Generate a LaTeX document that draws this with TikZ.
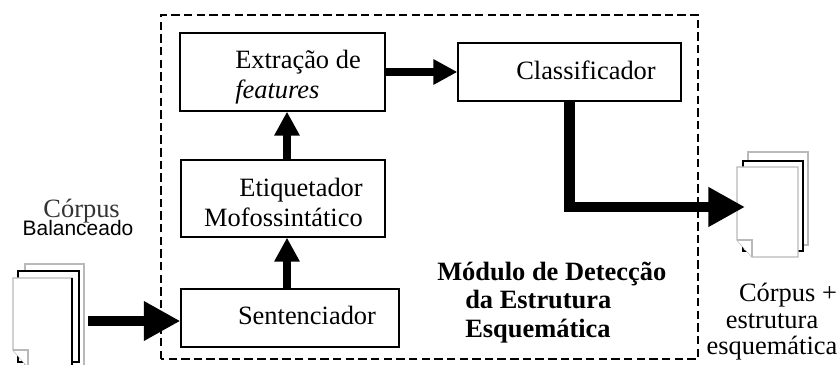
\documentclass[tikz,border=0pt]{standalone}
\usepackage{fontspec}
\setmainfont{Liberation Serif}
\newfontfamily\arialfont{Liberation Sans}
\usetikzlibrary{arrows.meta}

\begin{document}
\begin{tikzpicture} [>=latex,
	every node/.style={font=\fontsize{18.8}{21.3}\selectfont, inner sep=0pt},
	caixa/.style={draw, line width=0.9pt},
	setafina/.style={line width=5pt, -{Triangle[length=17pt, width=17pt]}},
	setagrossa/.style={line width=7.8pt, -{Triangle[length=26pt, width=26.5pt]}},
	folha/.style={draw=gray!55, fill=white, line width=0.9pt},
	folhapreta/.style={draw=black, fill=white, line width=0.9pt}]
	\useasboundingbox (0,0) rectangle (21,9.125);
	\clip (0,0) rectangle (21,9.125);
	%%%	Moldura do modulo
	\draw[line width=0.9pt, dash pattern=on 6pt off 3pt] (4.025,0.15) rectangle (17.45,8.75);
	%%%	Caixas
	\node[caixa, minimum width=5.125cm, minimum height=1.95cm] (extr) at (7.0625,7.325) {};
	\node[caixa, minimum width=5.575cm, minimum height=1.45cm] (clas) at (14.2375,7.325) {};
	\node[caixa, minimum width=5.1cm, minimum height=1.925cm] (etiq) at (7.075,4.1625) {};
	\node[caixa, minimum width=5.45cm, minimum height=1.45cm] (sent) at (7.25,1.175) {};
	\node[anchor=west, align=left] (extrT) at (5.875,7.2) {Extração de\\\textit{features}};
	\node[anchor=east, align=right] (etiqT) at (9.075,4.075) {Etiquetador\\Mofossintático};
	\node (sentT) at (7.675,1.25) {Sentenciador};
	\node (clasT) at (14.65,7.375) {Classificador};
	\node[anchor=west, align=left, font=\fontsize{18.8}{20.2}\selectfont\bfseries] (moduloT) at (10.925,1.56)
		{Módulo de Detecção\\\hspace*{0.7cm}da Estrutura\\\hspace*{0.7cm}Esquemática};
	%%%	Documentos de entrada
	\draw[folha] (0.625,-0.2) rectangle (2.1,2.525);
	\draw[folhapreta] (0.45,0.075) rectangle (1.975,2.35);
	\draw[folha] (0.325,0.375) -- (0.325,2.175) -- (1.8,2.175) -- (1.8,-0.05) -- (0.7,-0.05) -- cycle;
	\draw[folha] (0.325,0.375) -- (0.7,0.375) -- (0.7,-0.05);
	\draw[line width=0.9pt] (1.8,2.175) -- (1.8,-0.05);
	\node[text=black!80] (corpusT) at (2.04,3.85) {Córpus};
	\node[font=\arialfont\fontsize{14.9}{16}\selectfont] (balT) at (1.95,3.425) {Balanceado};
	%%%	Documentos de saida
	\draw[folha] (18.7,3.0) rectangle (20.2,5.325);
	\draw[folhapreta] (18.575,2.85) rectangle (20.075,5.1);
	\draw[folha] (18.425,3.125) -- (18.425,4.95) -- (19.95,4.95) -- (19.95,2.7) -- (18.8,2.7) -- cycle;
	\draw[folha] (18.425,3.125) -- (18.8,3.125) -- (18.8,2.7);
	\node[align=center, font=\fontsize{18.8}{18.8}\selectfont] (saidaT) at (19.3,1.075)
		{\hspace*{0.8cm}Córpus +\\estrutura\\esquemática};
	%%%	Setas
	\coordinate (eixo) at (7.175,0);
	\draw[setafina] (eixo |- sent.north) -- (eixo |- etiq.south);
	\draw[setafina] (eixo |- etiq.north) -- (eixo |- extr.south);
	\draw[setafina] (extr.east) -- (clas.west);
	\coordinate (entrada) at (2.2,1.1);
	\draw[setagrossa] (entrada) -- (entrada -| sent.west);
	\coordinate (saida) at (18.625,3.95);
	\draw[setagrossa] (clas.south) |- (saida);
\end{tikzpicture}
\end{document}
